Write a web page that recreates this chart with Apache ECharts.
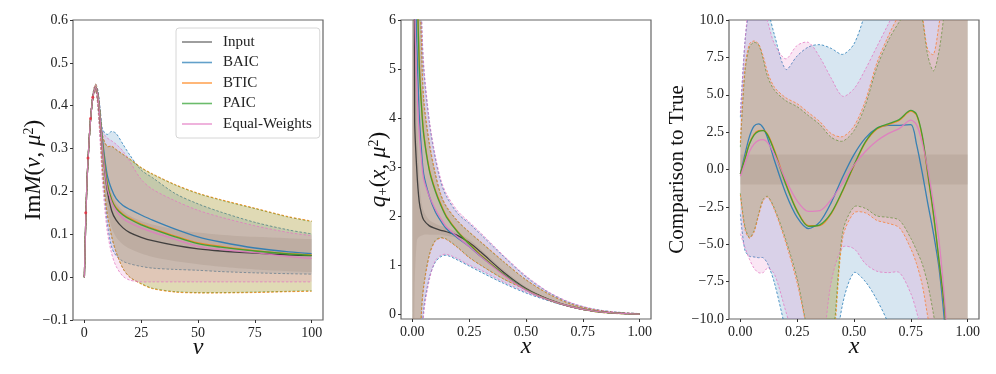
<!DOCTYPE html>
<html>
<head>
<meta charset="utf-8">
<script src="https://cdn.jsdelivr.net/npm/echarts@6/dist/echarts.min.js"></script>
<style>
  html, body { margin: 0; background: #fff; }
  #main { width: 996px; height: 374px; }
</style>
</head>
<body>
<div id="main"></div>
<script>
// ---------- panel 1 : Im M(nu, mu^2) ----------
var nu = [0, 1, 2, 3, 4, 5, 6, 7, 8, 10, 12, 14, 17, 20, 25, 30, 40, 50, 60, 75, 90, 100];
var p1Input   = [0, 0.2, 0.31, 0.385, 0.428, 0.443, 0.42, 0.36, 0.3, 0.205, 0.155, 0.133, 0.115, 0.104, 0.093, 0.085, 0.074, 0.066, 0.061, 0.056, 0.052, 0.05];
var p1InputLo = [0, 0.197, 0.306, 0.381, 0.424, 0.438, 0.41, 0.34, 0.27, 0.165, 0.115, 0.093, 0.076, 0.066, 0.055, 0.047, 0.037, 0.03, 0.024, 0.018, 0.014, 0.012];
var p1InputUp = [0, 0.203, 0.314, 0.389, 0.432, 0.448, 0.43, 0.38, 0.33, 0.245, 0.195, 0.173, 0.155, 0.143, 0.131, 0.123, 0.112, 0.104, 0.099, 0.094, 0.091, 0.089];
var p1Baic    = [0, 0.2, 0.31, 0.385, 0.428, 0.443, 0.425, 0.375, 0.32, 0.24, 0.205, 0.183, 0.167, 0.158, 0.145, 0.133, 0.112, 0.094, 0.082, 0.068, 0.059, 0.055];
var p1BaicLo  = [0, 0.197, 0.306, 0.381, 0.424, 0.436, 0.4, 0.33, 0.25, 0.13, 0.07, 0.05, 0.037, 0.031, 0.025, 0.021, 0.018, 0.016, 0.013, 0.01, 0.008, 0.007];
var p1BaicUp  = [0, 0.203, 0.314, 0.389, 0.434, 0.45, 0.435, 0.39, 0.345, 0.333, 0.34, 0.335, 0.31, 0.285, 0.25, 0.232, 0.195, 0.171, 0.152, 0.128, 0.11, 0.101];
var p1Btic    = [0, 0.2, 0.31, 0.385, 0.428, 0.443, 0.422, 0.37, 0.31, 0.222, 0.182, 0.162, 0.147, 0.137, 0.124, 0.114, 0.096, 0.08, 0.072, 0.062, 0.055, 0.052];
var p1BticLo  = [0, 0.197, 0.306, 0.381, 0.424, 0.436, 0.4, 0.33, 0.25, 0.15, 0.095, 0.058, 0.02, 0.0, -0.016, -0.027, -0.035, -0.037, -0.037, -0.036, -0.034, -0.033];
var p1BticUp  = [0, 0.203, 0.314, 0.389, 0.434, 0.45, 0.43, 0.38, 0.33, 0.305, 0.306, 0.298, 0.287, 0.276, 0.256, 0.241, 0.216, 0.196, 0.181, 0.161, 0.141, 0.131];
var p1Paic    = [0, 0.2, 0.31, 0.385, 0.428, 0.443, 0.422, 0.37, 0.31, 0.22, 0.18, 0.16, 0.145, 0.135, 0.122, 0.112, 0.094, 0.078, 0.07, 0.061, 0.054, 0.051];
var p1PaicLo  = [0, 0.197, 0.306, 0.381, 0.424, 0.436, 0.4, 0.33, 0.25, 0.15, 0.095, 0.058, 0.02, 0.0, -0.015, -0.026, -0.034, -0.036, -0.036, -0.035, -0.033, -0.032];
var p1PaicUp  = [0, 0.203, 0.314, 0.389, 0.434, 0.45, 0.43, 0.38, 0.33, 0.305, 0.305, 0.297, 0.286, 0.275, 0.255, 0.24, 0.215, 0.195, 0.18, 0.16, 0.14, 0.13];
var p1Ew      = [0, 0.2, 0.31, 0.385, 0.428, 0.443, 0.42, 0.365, 0.3, 0.21, 0.175, 0.155, 0.137, 0.127, 0.115, 0.105, 0.088, 0.072, 0.064, 0.057, 0.048, 0.044];
var p1EwLo    = [0, 0.197, 0.306, 0.381, 0.424, 0.436, 0.39, 0.31, 0.22, 0.11, 0.055, 0.025, 0.002, -0.007, -0.011, -0.011, -0.011, -0.011, -0.011, -0.011, -0.011, -0.011];
var p1EwUp    = [0, 0.203, 0.314, 0.389, 0.434, 0.45, 0.43, 0.385, 0.34, 0.325, 0.318, 0.31, 0.294, 0.27, 0.228, 0.205, 0.178, 0.156, 0.14, 0.12, 0.104, 0.097];
// input data points (red)
var p1PtsX = [0.6, 1.6, 2.7, 3.7];
var p1PtsY = [0.15, 0.278, 0.37, 0.42];
var p1XTicks = [0, 25, 50, 75, 100];
var p1YTicks = [-0.1, 0, 0.1, 0.2, 0.3, 0.4, 0.5, 0.6];

// ---------- panel 2 : q+(x, mu^2) ----------
var xq = [0, 0.01, 0.02, 0.03, 0.04, 0.05, 0.075, 0.1, 0.125, 0.15, 0.2, 0.25, 0.3, 0.4, 0.5, 0.6, 0.7, 0.8, 0.9, 1.0];
var p2Input   = [30, 4.0, 2.9, 2.3, 2.05, 1.92, 1.8, 1.75, 1.71, 1.68, 1.6, 1.46, 1.27, 0.86, 0.52, 0.3, 0.15, 0.06, 0.02, 0];
var p2InputLo = [-5, 0.5, 1.5, 1.58, 1.6, 1.62, 1.62, 1.62, 1.62, 1.6, 1.55, 1.4, 1.2, 0.8, 0.48, 0.28, 0.14, 0.055, 0.018, 0];
var p2InputUp = [40, 8, 4.2, 2.8, 2.3, 2.1, 1.92, 1.85, 1.8, 1.76, 1.66, 1.52, 1.33, 0.91, 0.56, 0.32, 0.16, 0.065, 0.022, 0];
var p2Baic    = [30, 7.5, 5.5, 4.1, 3.35, 2.85, 2.4, 2.1, 1.9, 1.74, 1.55, 1.38, 1.18, 0.82, 0.5, 0.29, 0.15, 0.06, 0.02, 0];
var p2BaicLo  = [-60, -20, -8, -3, -0.8, 0.1, 0.75, 1.05, 1.17, 1.2, 1.1, 0.98, 0.86, 0.63, 0.43, 0.27, 0.14, 0.06, 0.02, 0];
var p2BaicUp  = [60, 30, 15, 9, 6.1, 5.0, 3.9, 3.2, 2.7, 2.4, 2.05, 1.85, 1.63, 1.18, 0.76, 0.44, 0.22, 0.1, 0.04, 0.01];
var p2Btic    = [30, 9, 7, 5.2, 4.3, 3.7, 2.95, 2.55, 2.25, 2.0, 1.68, 1.44, 1.21, 0.82, 0.5, 0.29, 0.15, 0.06, 0.02, 0];
var p2BticLo  = [-60, -20, -6, -1.5, 0, 0.55, 1.2, 1.48, 1.55, 1.52, 1.35, 1.15, 1.0, 0.72, 0.5, 0.3, 0.15, 0.05, 0.01, 0];
var p2BticUp  = [60, 25, 12, 7.5, 5.6, 4.4, 3.5, 2.9, 2.45, 2.2, 1.9, 1.68, 1.48, 1.08, 0.7, 0.41, 0.2, 0.09, 0.03, 0.01];
var p2Paic    = [30, 9, 6.9, 5.1, 4.25, 3.65, 2.92, 2.52, 2.22, 1.98, 1.67, 1.43, 1.2, 0.82, 0.5, 0.29, 0.15, 0.06, 0.02, 0];
var p2PaicLo  = [-60, -20, -6, -1.4, 0.05, 0.58, 1.22, 1.5, 1.56, 1.53, 1.36, 1.16, 1.0, 0.72, 0.5, 0.3, 0.15, 0.05, 0.01, 0];
var p2PaicUp  = [60, 25, 12, 7.4, 5.5, 4.35, 3.45, 2.87, 2.43, 2.18, 1.89, 1.67, 1.47, 1.07, 0.7, 0.41, 0.2, 0.09, 0.03, 0.01];
var p2Ew      = [30, 6.5, 4.6, 3.7, 3.15, 2.75, 2.4, 2.15, 1.95, 1.78, 1.57, 1.38, 1.18, 0.8, 0.49, 0.29, 0.15, 0.06, 0.02, 0];
var p2EwLo    = [-60, -20, -8, -3, -1, 0.0, 0.7, 1.08, 1.2, 1.22, 1.13, 1.0, 0.9, 0.66, 0.45, 0.28, 0.14, 0.06, 0.02, 0];
var p2EwUp    = [60, 30, 15, 9, 6.2, 5.1, 3.95, 3.25, 2.75, 2.45, 2.1, 1.88, 1.66, 1.2, 0.78, 0.45, 0.23, 0.1, 0.04, 0.01];
var p2XTicks = [0, 0.25, 0.5, 0.75, 1.0];
var p2YTicks = [0, 1, 2, 3, 4, 5, 6];

// ---------- panel 3 : comparison to true ----------
var xc = [0, 0.02, 0.04, 0.06, 0.08, 0.1, 0.12, 0.15, 0.2, 0.25, 0.3, 0.35, 0.4, 0.45, 0.5, 0.55, 0.6, 0.65, 0.7, 0.75, 0.775, 0.8, 0.825, 0.85, 0.875, 0.9, 0.95, 1.0];
var p3Baic   = [-0.3, 1.0, 2.2, 2.9, 3.05, 2.8, 2.1, 0.6, -1.6, -3.2, -3.95, -3.5, -2.2, -0.5, 1.0, 2.1, 2.75, 2.95, 2.95, 3.0, 1.7, -0.2, -2.3, -4.3, -6.7, -10.5, -20, -30];
var p3BaicLo = [-3, -5.4, -5.8, -5.85, -5.9, -5.9, -6.3, -7.6, -10.8, -14, -16, -17, -14, -9, -6.9, -7.5, -8.7, -10.3, -13, -16, -17, -18, -19, -20, -21, -22, -25, -30];
var p3BaicUp = [3.5, 8.5, 11, 13, 13, 12, 10.8, 9.0, 6.7, 7.6, 8.2, 8.35, 8.1, 7.7, 8.4, 10.5, 13, 15, 17, 19, 20, 21, 22, 23, 24, 25, 27, 30];
var p3Btic   = [-0.3, 0.75, 1.75, 2.35, 2.6, 2.62, 2.35, 1.3, -0.9, -2.75, -3.75, -3.75, -2.95, -1.45, 0.25, 1.8, 2.7, 3.0, 3.3, 3.9, 3.65, 2.2, -0.4, -3.1, -6.3, -9.6, -20, -30];
var p3BticLo = [-1.7, -4.0, -4.6, -4.2, -3.1, -2.1, -1.85, -2.7, -4.9, -7.6, -11, -13, -12.5, -4.6, -2.9, -2.9, -3.4, -3.6, -3.9, -5.3, -6.3, -7.7, -9.9, -12, -14, -16, -20, -30];
var p3BticUp = [1.8, 6.8, 8.4, 8.6, 8.4, 7.6, 6.5, 5.5, 4.8, 4.4, 3.8, 3.2, 2.4, 2.2, 2.9, 4.6, 7.1, 8.9, 10.4, 11.5, 11.5, 10.3, 8.0, 7.7, 9.8, 12, 17, 25];
var p3Paic   = [-0.3, 0.7, 1.7, 2.3, 2.55, 2.6, 2.3, 1.2, -1.0, -2.8, -3.8, -3.7, -2.9, -1.4, 0.3, 1.85, 2.75, 3.05, 3.35, 3.95, 3.7, 2.3, -0.3, -3.0, -6.2, -9.5, -20, -30];
var p3PaicLo = [-1.6, -3.8, -4.55, -4.1, -3.0, -2.0, -1.8, -2.6, -4.7, -7.3, -11, -13, -12, -4.2, -2.5, -2.6, -3.1, -3.2, -3.4, -4.6, -5.4, -6.3, -7.7, -9.7, -12, -15, -20, -30];
var p3PaicUp = [1.5, 6.5, 8.2, 8.5, 8.35, 7.4, 6.2, 5.3, 4.6, 4.2, 3.6, 3.0, 2.15, 1.9, 2.6, 4.3, 6.8, 8.6, 9.9, 11, 11.3, 10.1, 7.6, 6.6, 8.0, 10.8, 16, 25];
var p3Ew     = [-0.45, 0.4, 1.2, 1.7, 1.95, 2.0, 1.8, 1.0, -0.7, -2.1, -2.8, -2.75, -2.0, -0.9, 0.3, 1.2, 1.9, 2.4, 2.75, 3.3, 3.0, 1.8, 0.0, -2.3, -4.9, -9.0, -20, -30];
var p3EwLo   = [-4.3, -5.2, -6.0, -6.6, -6.9, -6.9, -6.6, -7.0, -9.5, -12, -14, -13, -7.5, -5.2, -5.3, -6.3, -6.8, -6.9, -6.9, -8.3, -9.5, -11, -13, -15, -17, -20, -24, -30];
var p3EwUp   = [3.8, 8.5, 11.5, 13, 12, 10.8, 9.9, 8.4, 7.4, 8.3, 8.5, 7.5, 6.1, 4.9, 5.4, 6.7, 8.2, 9.7, 11.2, 13, 13.5, 14, 15, 16, 18, 20, 24, 30];
var p3InputX  = [0, 1];
var p3InputLo = [-1, -1];
var p3InputUp = [1, 1];
var p3XTicks = [0, 0.25, 0.5, 0.75, 1.0];
var p3YTicks = [-10, -7.5, -5, -2.5, 0, 2.5, 5, 7.5, 10];

var names = ['Input', 'BAIC', 'BTIC', 'PAIC', 'Equal-Weights'];
// fills are painted in this order
var fillOrder = ['Input', 'BAIC', 'PAIC', 'BTIC', 'Equal-Weights'];
var colors = { 'Input': '#333333', 'BAIC': '#1f77b4', 'BTIC': '#ff7f0e', 'PAIC': '#2ca02c', 'Equal-Weights': '#e377c2' };
var fills = {
    'Input': 'rgba(0,0,0,0.1)', 'BAIC': 'rgba(31,119,180,0.18)', 'BTIC': 'rgba(255,127,14,0.18)',
    'PAIC': 'rgba(44,160,44,0.18)', 'Equal-Weights': 'rgba(227,119,194,0.18)'
};
var FONT = 'Liberation Serif';
var SMOOTH = 0.3;

function pairs(xs, ys) { return xs.map(function (x, i) { return [x, ys[i]]; }); }
function minus(v, d) { return (v < 0 ? '\u2212' : '') + Math.abs(v).toFixed(d); }

// fill_between: one polygon (upper edge + lower edge reversed) through the axes' scales,
// ends doubled so the smoothed edges match the open dashed polylines
function band(g, key, xs, lo, up, edge) {
    return {
        type: 'custom', name: key + ' band', xAxisIndex: g, yAxisIndex: g, silent: true, z: 1,
        data: [[xs[0], lo[0]]],
        renderItem: function (params, api) {
            var top = xs.map(function (x, i) { return api.coord([x, up[i]]); });
            var bot = xs.map(function (x, i) { return api.coord([x, lo[i]]); });
            var n = xs.length;
            var poly = [top[0]].concat(top, [top[n - 1], bot[n - 1]], bot.slice().reverse(), [bot[0]]);
            var cs = params.coordSys;
            var kids = [{ type: 'polygon', shape: { points: poly, smooth: SMOOTH }, style: { fill: fills[key] } }];
            if (edge) {
                [top, bot].forEach(function (pts) {
                    kids.push({ type: 'polyline', shape: { points: pts, smooth: SMOOTH },
                        style: { fill: null, stroke: colors[key], lineWidth: 1, lineDash: [2.5, 1.8], opacity: 0.75 } });
                });
            }
            return { type: 'group', children: kids,
                     clipPath: { type: 'rect', shape: { x: cs.x, y: cs.y, width: cs.width, height: cs.height } } };
        }
    };
}
function line(g, key, xs, ys) {
    return { type: 'line', name: key, xAxisIndex: g, yAxisIndex: g, data: pairs(xs, ys),
             smooth: 0.3, symbol: 'none', color: colors[key], silent: true,
             lineStyle: { color: colors[key], width: 1.3, opacity: key === 'Input' ? 0.9 : 0.85 }, z: 3 };
}

var panels = [
    { g: 0, x: nu, d: { 'Input': [p1Input, p1InputLo, p1InputUp], 'BAIC': [p1Baic, p1BaicLo, p1BaicUp],
      'BTIC': [p1Btic, p1BticLo, p1BticUp], 'PAIC': [p1Paic, p1PaicLo, p1PaicUp], 'Equal-Weights': [p1Ew, p1EwLo, p1EwUp] } },
    { g: 1, x: xq, d: { 'Input': [p2Input, p2InputLo, p2InputUp], 'BAIC': [p2Baic, p2BaicLo, p2BaicUp],
      'BTIC': [p2Btic, p2BticLo, p2BticUp], 'PAIC': [p2Paic, p2PaicLo, p2PaicUp], 'Equal-Weights': [p2Ew, p2EwLo, p2EwUp] } },
    { g: 2, x: xc, d: { 'BAIC': [p3Baic, p3BaicLo, p3BaicUp],
      'BTIC': [p3Btic, p3BticLo, p3BticUp], 'PAIC': [p3Paic, p3PaicLo, p3PaicUp], 'Equal-Weights': [p3Ew, p3EwLo, p3EwUp] } }
];

var series = [];
// comparison panel: input band is the +-1 strip
series.push(band(2, 'Input', p3InputX, p3InputLo, p3InputUp, false));
panels.forEach(function (p) {
    fillOrder.forEach(function (k) {
        if (p.d[k]) series.push(band(p.g, k, p.x, p.d[k][1], p.d[k][2], k !== 'Input'));
    });
    names.forEach(function (k) {
        if (p.d[k]) series.push(line(p.g, k, p.x, p.d[k][0]));
    });
});
series.push({ type: 'scatter', name: 'points', xAxisIndex: 0, yAxisIndex: 0, data: pairs(p1PtsX, p1PtsY),
              symbolSize: 3, itemStyle: { color: '#e8283a' }, silent: true, z: 4 });

var tickFont = { fontFamily: FONT, fontSize: 14, color: '#222' };
function xAxis(g, min, max, ticks, fmt, name) {
    return {
        type: 'value', gridIndex: g, min: min, max: max,
        splitLine: { show: false }, axisLine: { show: false, onZero: false },
        axisTick: { show: true, length: 3, customValues: ticks, lineStyle: { color: '#333' } },
        axisLabel: Object.assign({ customValues: ticks, margin: 6, formatter: fmt }, tickFont),
        name: name, nameLocation: 'middle', nameGap: 16, nameMoveOverlap: false,
        nameTextStyle: { fontFamily: FONT, fontSize: 24, fontStyle: 'italic', color: '#111' }
    };
}
function yAxis(g, min, max, ticks, fmt, name, gap, rich) {
    return {
        type: 'value', gridIndex: g, min: min, max: max,
        splitLine: { show: false }, axisLine: { show: false, onZero: false },
        axisTick: { show: true, length: 3, customValues: ticks, lineStyle: { color: '#333' } },
        axisLabel: Object.assign({ customValues: ticks, margin: 5, formatter: fmt }, tickFont),
        name: name, nameLocation: 'middle', nameGap: gap, nameRotate: 90, nameMoveOverlap: false,
        nameTextStyle: { fontFamily: FONT, fontSize: 21, color: '#111', rich: rich }
    };
}
var richBase = {
    r: { fontFamily: FONT, fontSize: 23, color: '#111' },
    i: { fontFamily: FONT, fontSize: 23, fontStyle: 'italic', color: '#111' },
    sup: { fontFamily: FONT, fontSize: 14, color: '#111', verticalAlign: 'top', padding: [0, 0, 10, 0] },
    sub: { fontFamily: FONT, fontSize: 15, color: '#111', verticalAlign: 'bottom', padding: [8, 0, 0, 0] }
};

var option = {
    backgroundColor: '#fff',
    animation: false,
    grid: [
        { left: 73, top: 20, width: 250, height: 300, show: true, borderColor: '#666', borderWidth: 1.2 },
        { left: 401, top: 20, width: 250, height: 299, show: true, borderColor: '#666', borderWidth: 1.2 },
        { left: 729, top: 20, width: 250, height: 299, show: true, borderColor: '#666', borderWidth: 1.2 }
    ],
    xAxis: [
        xAxis(0, -5, 105, p1XTicks, function (v) { return String(v); }, '\u03bd'),
        xAxis(1, -0.05, 1.05, p2XTicks, function (v) { return v.toFixed(2); }, 'x'),
        xAxis(2, -0.05, 1.05, p3XTicks, function (v) { return v.toFixed(2); }, 'x')
    ],
    yAxis: [
        yAxis(0, -0.1, 0.6, p1YTicks, function (v) { return minus(v, 1); },
              '{r|Im}{i|M}{r|(}{i|\u03bd}{r|, }{i|\u03bc}{sup|2}{r|)}', 27, richBase),
        yAxis(1, -0.1, 6, p2YTicks, function (v) { return String(v); },
              '{i|q}{sub|+}{r|(}{i|x}{r|, }{i|\u03bc}{sup|2}{r|)}', 10, richBase),
        yAxis(2, -10, 10, p3YTicks, function (v) { return minus(v, 1); }, 'Comparison to True', 41)
    ],
    legend: {
        data: names.map(function (k) {
            return { name: k, itemStyle: { color: colors[k], opacity: k === 'Input' ? 0.6 : 0.7 } };
        }),
        orient: 'vertical', left: 176, top: 28, icon: 'rect', itemWidth: 30, itemHeight: 1.6, itemGap: 4.5,
        padding: [6, 8, 6, 6], backgroundColor: 'rgba(255,255,255,0.85)', borderColor: '#d6d6d6',
        borderWidth: 1, borderRadius: 3,
        textStyle: { fontFamily: FONT, fontSize: 15, color: '#222', lineHeight: 16, padding: [0, 0, 0, 6] }
    },
    series: series
};

var chart = echarts.init(document.getElementById('main'));
chart.setOption(option);
</script>
</body>
</html>
